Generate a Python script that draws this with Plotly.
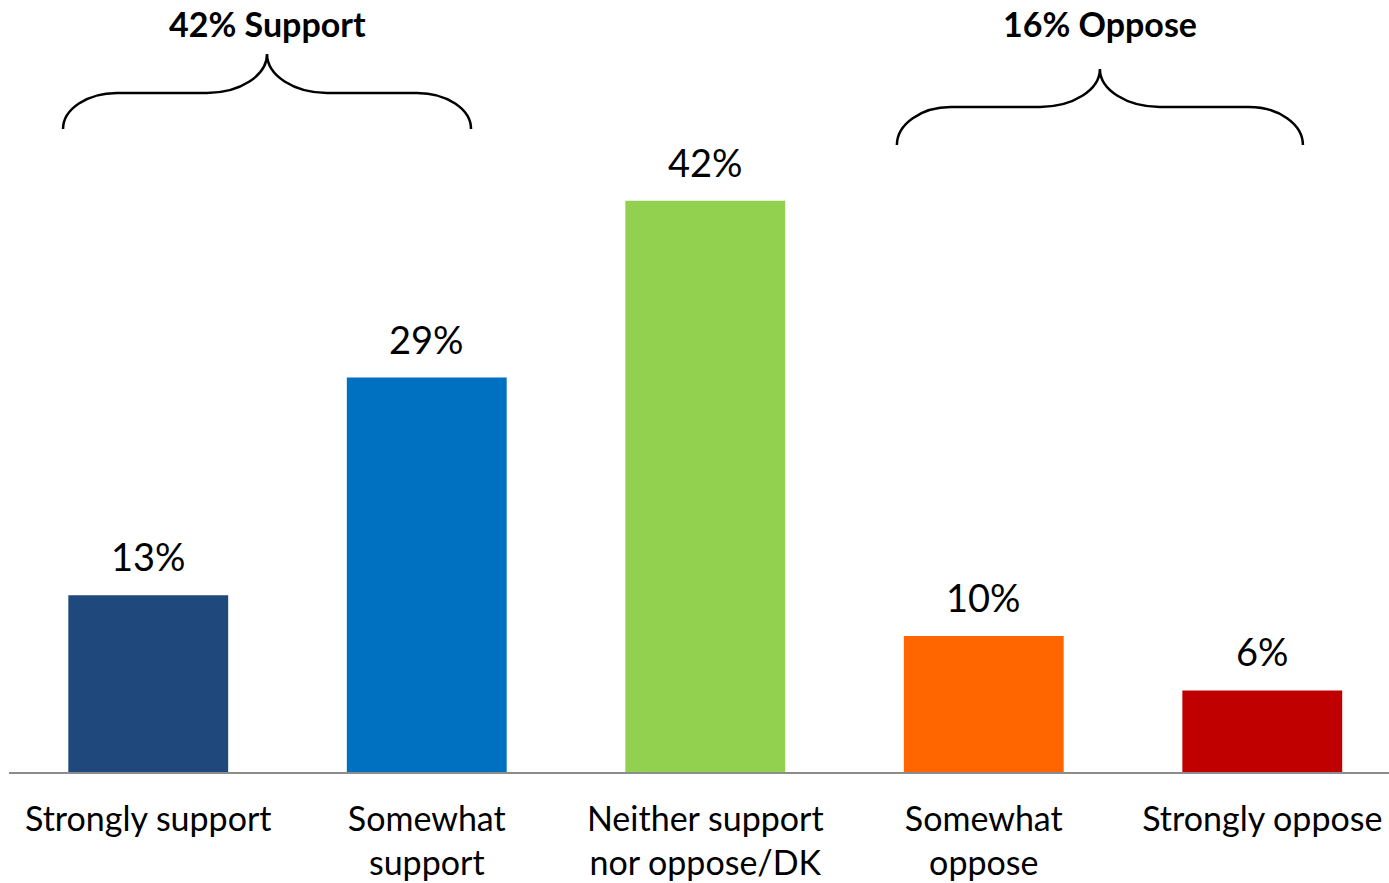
import plotly.graph_objects as go

# ---- data ----
categories = ["Strongly support", "Somewhat<br>support", "Neither support<br>nor oppose/DK",
              "Somewhat<br>oppose", "Strongly oppose"]
values = [13, 29, 42, 10, 6]
bar_colors = ["#1F497D", "#0070C0", "#92D050", "#FF6600", "#C00000"]
group_names = ["Support", "Oppose"]
group_members = [[0, 1], [3, 4]]

# ---- style / layout ----
FONT = "Lato"
x_pos = list(range(len(categories)))
y_top = 772 / 13.6
brace_span = [(-0.306, 1.159), (2.688, 4.146)]
brace_y = [(47.28, 49.93, 52.79), (46.1, 48.9, 51.69)]
dx_end, dx_mid = 0.194, 0.215

fig = go.Figure()
fig.add_trace(go.Bar(
    x=x_pos, y=values, marker=dict(color=bar_colors, line=dict(width=0)),
    width=0.574, hoverinfo="skip", showlegend=False,
))

# value labels
for xi, v in zip(x_pos, values):
    fig.add_annotation(x=xi, y=v, xref="x", yref="y", text=f"{v}%", showarrow=False,
                       yanchor="bottom", yshift=14,
                       font=dict(family=FONT, size=38, color="black"))


def brace_path(xa, xb, ye, yf, yp):
    xm = (xa + xb) / 2
    h1 = yf - ye
    h2 = yp - yf
    k = 0.55
    p = (f"M {xa},{ye} "
         f"C {xa},{ye + k*h1} {xa + (1-k)*dx_end},{yf} {xa + dx_end},{yf} "
         f"L {xm - dx_mid},{yf} "
         f"C {xm - (1-k)*dx_mid},{yf} {xm},{yp - k*h2} {xm},{yp} "
         f"C {xm},{yp - k*h2} {xm + (1-k)*dx_mid},{yf} {xm + dx_mid},{yf} "
         f"L {xb - dx_end},{yf} "
         f"C {xb - (1-k)*dx_end},{yf} {xb},{ye + k*h1} {xb},{ye}")
    return p, xm


for name, members, (xa, xb), (ye, yf, yp) in zip(group_names, group_members, brace_span, brace_y):
    total = sum(values[i] for i in members)
    path, xm = brace_path(xa, xb, ye, yf, yp)
    fig.add_shape(type="path", path=path, xref="x", yref="y",
                  line=dict(color="black", width=2.5))
    fig.add_annotation(x=xm, y=55.07, xref="x", yref="y", text=f"<b>{total}% {name}</b>",
                       showarrow=False, yanchor="middle",
                       font=dict(family=FONT, size=34, color="black"))

fig.update_layout(
    width=1389, height=883,
    margin=dict(l=9, r=0, t=0, b=111, autoexpand=False),
    paper_bgcolor="white", plot_bgcolor="white",
    bargap=0.426,
    xaxis=dict(range=[-0.5, 4.455], tickmode="array", tickvals=x_pos, ticktext=categories,
               showgrid=False, zeroline=False, showline=True, linecolor="#8C8C8C", linewidth=2,
               ticks="", ticklabelstandoff=16, automargin=False,
               tickfont=dict(family=FONT, size=34, color="black"), fixedrange=True),
    yaxis=dict(range=[0, y_top], visible=False, showgrid=False, zeroline=False, fixedrange=True,
               automargin=False),
)

fig.write_html("out.html", config={"displayModeBar": False},
               post_script="document.body.style.margin='0';document.body.style.overflow='hidden';")
